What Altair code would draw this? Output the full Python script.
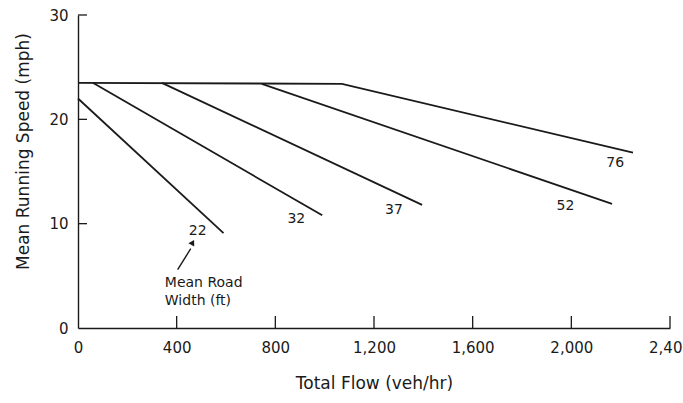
import altair as alt
import pandas as pd

# Line series (Mean road width in ft) : flow (veh/hr), speed (mph)
series_22_x = [0, 590]
series_22_y = [22.0, 9.1]
series_32_x = [60, 990]
series_32_y = [23.5, 10.8]
series_37_x = [340, 1395]
series_37_y = [23.5, 11.8]
series_52_x = [745, 2165]
series_52_y = [23.4, 11.9]
series_76_x = [0, 1070, 2250]
series_76_y = [23.5, 23.4, 16.8]

label_names = ["22", "32", "37", "52", "76"]
label_x = [485, 885, 1281, 1976, 2178]
label_y = [9.3, 10.4, 11.3, 11.7, 15.8]

note_lines = ["Mean Road", "Width (ft)"]
note_x = [352, 352]
note_y = [4.3, 2.6]

arrow_tail = (404, 5.6)
arrow_head = (465, 8.2)

x_ticks = [0, 400, 800, 1200, 1600, 2000, 2400]
y_ticks = [0, 10, 20, 30]

FONT = "DejaVu Sans"
INK = "#1a1a1a"

rows = []
for name, xs, ys in [("22", series_22_x, series_22_y), ("32", series_32_x, series_32_y),
                     ("37", series_37_x, series_37_y), ("52", series_52_x, series_52_y),
                     ("76", series_76_x, series_76_y)]:
    for i, (a, b) in enumerate(zip(xs, ys)):
        rows.append({"width": name, "flow": a, "speed": b, "order": i})
lines_df = pd.DataFrame(rows)

W, H = 592, 313

xscale = alt.Scale(domain=[0, 2400], nice=False, zero=False)
yscale = alt.Scale(domain=[0, 30], nice=False, zero=False)

xaxis = alt.Axis(values=x_ticks, format=",d", title="Total Flow (veh/hr)", tickSize=0,
                 labelPadding=12, titlePadding=20, grid=False)
yaxis = alt.Axis(values=y_ticks, format="d", title="Mean Running Speed (mph)", tickSize=0,
                 labelPadding=10, titlePadding=16, titleY=136, grid=False)

lines = alt.Chart(lines_df).mark_line(color=INK, strokeWidth=1.8).encode(
    x=alt.X("flow:Q", scale=xscale, axis=xaxis),
    y=alt.Y("speed:Q", scale=yscale, axis=yaxis),
    detail="width:N",
    order="order:Q",
)

labels_df = pd.DataFrame({"t": label_names, "x": label_x, "y": label_y})
labels = alt.Chart(labels_df).mark_text(font=FONT, fontSize=14, color=INK).encode(
    x=alt.X("x:Q", scale=xscale), y=alt.Y("y:Q", scale=yscale), text="t:N")

note_df = pd.DataFrame({"t": note_lines, "x": note_x, "y": note_y})
note = alt.Chart(note_df).mark_text(font=FONT, fontSize=14, color=INK, align="left").encode(
    x=alt.X("x:Q", scale=xscale), y=alt.Y("y:Q", scale=yscale), text="t:N")

arrow_df = pd.DataFrame({"x": [arrow_tail[0]], "y": [arrow_tail[1]],
                         "x2": [arrow_head[0] - 8], "y2": [arrow_head[1] - 0.6]})
arrow_line = alt.Chart(arrow_df).mark_rule(color=INK, strokeWidth=1.4).encode(
    x=alt.X("x:Q", scale=xscale), y=alt.Y("y:Q", scale=yscale), x2="x2:Q", y2="y2:Q")
head_df = pd.DataFrame({"x": [arrow_head[0]], "y": [arrow_head[1]]})
arrow_headm = alt.Chart(head_df).mark_point(shape="triangle-up", filled=True, color=INK,
                                            size=45, angle=29, opacity=1).encode(
    x=alt.X("x:Q", scale=xscale), y=alt.Y("y:Q", scale=yscale))

xt_df = pd.DataFrame({"v": x_ticks[1:]})
xticks = alt.Chart(xt_df).mark_rule(color=INK, strokeWidth=1.3).encode(
    x=alt.X("v:Q", scale=xscale), y=alt.value(H), y2=alt.value(H - 12))
yt_df = pd.DataFrame({"v": y_ticks[1:]})
yticks = alt.Chart(yt_df).mark_rule(color=INK, strokeWidth=1.3).encode(
    y=alt.Y("v:Q", scale=yscale), x=alt.value(0), x2=alt.value(9))

chart = alt.layer(lines, labels, note, arrow_line, arrow_headm, xticks, yticks).properties(
    width=W, height=H, autosize="none",
    padding={"left": 78, "top": 15, "right": 13, "bottom": 75},
    background="white",
).configure_view(stroke=None).configure_axis(
    domainColor=INK, domainWidth=1.4, labelFont=FONT, titleFont=FONT,
    labelFontSize=15, titleFontSize=17, labelColor=INK, titleColor=INK,
    titleFontWeight="normal", labelFlush=False,
)

chart.save("out.html", embed_options={"renderer": "svg", "actions": False})
